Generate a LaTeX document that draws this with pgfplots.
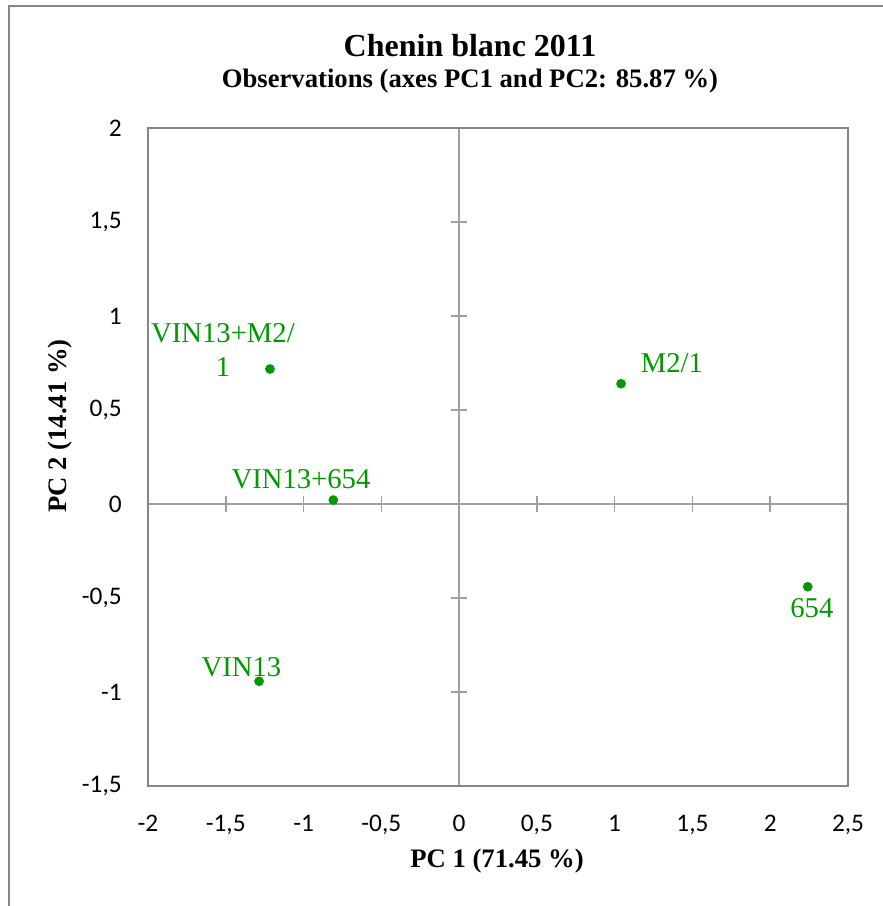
\documentclass[border=0pt]{standalone}
\usepackage{pgfplots}
\pgfplotsset{compat=1.18}
\usepackage{fontspec}
\setmainfont{Liberation Serif}
\newfontfamily\carlito{Carlito}
\definecolor{ptgreen}{RGB}{0,153,0}
\definecolor{framegray}{RGB}{134,134,134}
\definecolor{zerogray}{RGB}{160,160,160}
\begin{document}
\begin{tikzpicture}
% zero lines with crossing ticks
\begin{axis}[
  width=525pt, height=493.5pt, scale only axis,
  xmin=-2, xmax=2.5, ymin=-1.5, ymax=2,
  axis lines=middle,
  axis line style={zerogray, line width=1.1pt, -},
  xtick={-1.5,-1,-0.5,0.5,1,1.5,2},
  ytick={-1,-0.5,0.5,1,1.5},
  xticklabels={}, yticklabels={},
  tick align=center, major tick length=12.5pt,
  tick style={zerogray, line width=1.1pt},
]
\end{axis}
% frame, labels and data
\begin{axis}[
  name=main,
  width=525pt, height=493.5pt, scale only axis,
  xmin=-2, xmax=2.5, ymin=-1.5, ymax=2,
  axis line style={framegray, line width=1.5pt},
  major tick length=0pt, tick style={draw=none},
  xtick={-2,-1.5,-1,-0.5,0,0.5,1,1.5,2,2.5},
  xticklabels={-2,{-1,5},-1,{-0,5},0,{0,5},1,{1,5},2,{2,5}},
  ytick={-1.5,-1,-0.5,0,0.5,1,1.5,2},
  yticklabels={{-1,5},-1,{-0,5},0,{0,5},1,{1,5},2},
  ticklabel style={font=\carlito\fontsize{19}{19}\selectfont, inner sep=0pt},
  xticklabel style={anchor=north, yshift=-21.75pt},
  yticklabel style={anchor=east, xshift=-19.5pt},
  clip=false,
  xlabel={PC 1 (71.45 \%)},
  ylabel={PC 2 (14.41 \%)},
  xlabel style={at={(axis description cs:0.4986,-0.1246)}, anchor=base, font=\fontsize{20}{20}\selectfont\bfseries},
  ylabel style={at={(axis description cs:-0.1257,0.547)}, anchor=center, font=\fontsize{20}{20}\selectfont\bfseries},
]
\addplot[only marks, mark=*, mark size=3.4pt, color=ptgreen] coordinates {
  (-1.216, 0.718)
  (1.041, 0.640)
  (-0.809, 0.021)
  (2.241, -0.440)
  (-1.286, -0.943)
};
\node[anchor=center, align=center, text=ptgreen, font=\fontsize{21.5}{25.5}\selectfont] at (axis cs:-1.518,0.819) {VIN13+M2/\\1};
\node[anchor=base, text=ptgreen, font=\fontsize{21.5}{25.5}\selectfont] at (axis cs:1.368,0.697) {M2/1};
\node[anchor=base, text=ptgreen, font=\fontsize{21.5}{25.5}\selectfont] at (axis cs:-1.0165,0.085) {VIN13+654};
\node[anchor=base, text=ptgreen, font=\fontsize{21.5}{25.5}\selectfont] at (axis cs:2.268,-0.606) {654};
\node[anchor=base, text=ptgreen, font=\fontsize{21.5}{25.5}\selectfont] at (axis cs:-1.399,-0.920) {VIN13};
\node[anchor=base, font=\fontsize{24}{24}\selectfont\bfseries] at (axis description cs:0.46,1.108) {Chenin blanc 2011};
\node[anchor=base, font=\fontsize{20}{20}\selectfont\bfseries] at (axis description cs:0.46,1.0608) {Observations (axes PC1 and PC2: 85.87 \%)};
\end{axis}
\draw[framegray, line width=1.2pt] (-104.25pt,-95pt) -- (-104.25pt,585pt) -- (560pt,585pt);
\pgfresetboundingbox
\useasboundingbox (-111pt,-90pt) rectangle (550.5pt,589.5pt);
\end{tikzpicture}
\end{document}
